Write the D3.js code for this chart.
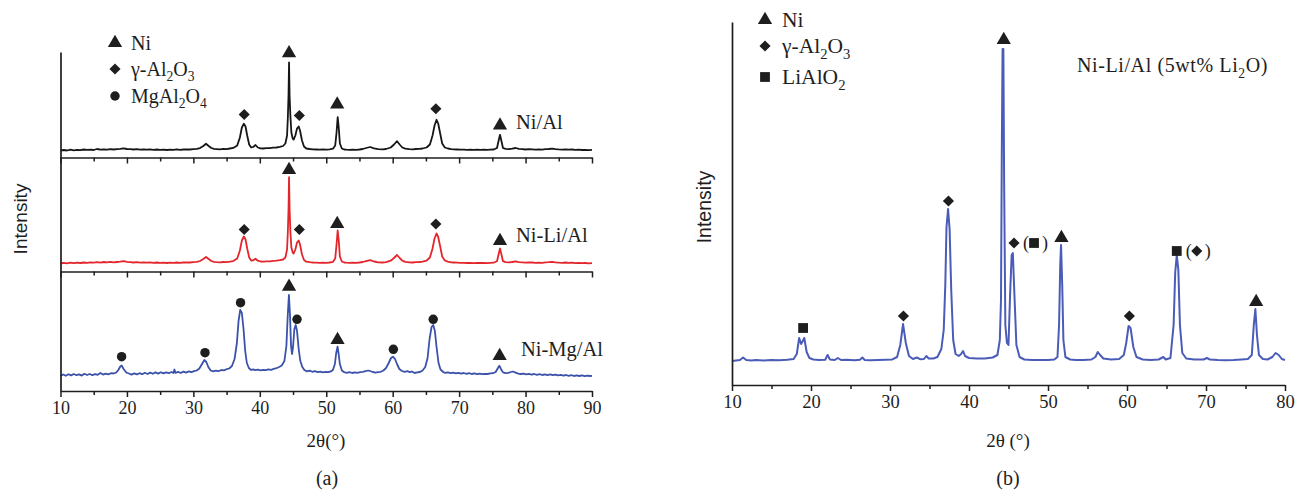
<!DOCTYPE html>
<html>
<head>
<meta charset="utf-8">
<script src="https://cdn.jsdelivr.net/npm/d3@7"></script>
<style>
  body { margin: 0; background: #fff; }
  svg text { font-family: "Liberation Serif", "Times New Roman", serif; fill: #1e1e1e; }
  svg text.sans { font-family: "Liberation Sans", Arial, sans-serif; }
</style>
</head>
<body>
<svg id="chart" width="1296" height="494"></svg>
<script>
// ---------- XRD patterns, [2θ (deg), intensity (a.u.)] ----------
// (a) stacked patterns
const niAl = [
  [10,7],[10.5,7.5],[11,7],[11.5,7.8],[12,7.2],[12.5,7.6],[13,7.4],[13.5,8],[14,7.6],[14.5,7.9],[15,7.5],[15.5,8.5],
  [16,7.8],[16.5,8.2],[17,7.9],[17.5,8.4],[18,8],[18.5,8.3],[19,8.6],[19.5,9.2],[20,8.5],[20.5,8.3],[21,8],[21.5,8.4],
  [22,7.9],[22.5,8.2],[23,7.8],[23.5,8.1],[24,7.6],[24.5,8],[25,7.7],[25.5,7.9],[26,7.5],[26.5,7.8],[27,7.6],[27.5,8.1],
  [28,7.7],[28.5,8],[29,8.2],[29.5,8],[30,8.3],[30.5,8.6],[31,9.4],[31.5,11.5],[31.9,13.7],[32.3,11.5],[32.7,9.5],
  [33.1,8.6],[33.5,8.4],[34,8.2],[34.5,8.6],[35,8.4],[35.5,9],[36,9.6],[36.6,12],[37,20],[37.3,30],[37.6,33.7],
  [37.85,31],[38.1,22],[38.4,13],[38.7,10],[39,10.5],[39.35,12.5],[39.7,10],[40.1,9.2],[40.5,9],[41,9.3],[41.5,9.4],
  [42,9.8],[42.5,10],[43,10.6],[43.5,11.5],[43.85,14],[44.1,22],[44.22,40],[44.32,62],[44.4,95],[44.48,62],[44.6,42],
  [44.75,25],[44.95,19],[45.1,18],[45.35,22],[45.6,29],[45.85,31],[46.05,27],[46.35,17],[46.65,11],[47,9],[47.5,8.5],
  [48,8.2],[48.5,8],[49,7.8],[49.5,8],[50,7.9],[50.5,8.2],[51,8.8],[51.35,12],[51.55,25],[51.72,40.3],[51.88,30],
  [52.05,14],[52.35,9],[52.7,8],[53,7.8],[53.5,7.6],[54,7.9],[54.5,7.7],[55,8],[55.5,8.5],[56,9.5],[56.6,10.5],
  [57.2,9.2],[57.8,8.4],[58.5,8.2],[59,8.5],[59.7,10],[60.2,13],[60.65,16.3],[61.05,13],[61.45,10],[61.9,8.8],
  [62.5,8.4],[63,8.2],[63.5,8.5],[64,8.7],[64.5,9],[65.1,10],[65.6,13],[66,22],[66.3,32],[66.6,37.7],[66.85,34],
  [67.15,24],[67.45,14],[67.85,10],[68.3,9],[68.8,8.4],[69.2,8.2],[69.7,8],[70.2,7.8],[70.7,7.9],[71.2,7.7],[71.7,7.8],
  [72.2,7.6],[72.7,7.8],[73.2,7.7],[73.7,7.9],[74.2,7.6],[74.7,7.8],[75.2,8],[75.7,9.5],[75.95,17],[76.15,22.7],
  [76.35,17],[76.6,9.5],[77,8.6],[77.5,8.3],[78,8.8],[78.5,9.5],[79,8.6],[79.5,8.3],[80,8],[80.5,8.3],[81,8.2],
  [81.5,7.9],[82,8.1],[82.5,7.8],[83,8.3],[83.5,8.5],[84,8.9],[84.5,8.4],[85,8.1],[85.5,7.9],[86,8.2],[86.5,7.8],
  [87,8],[87.5,7.6],[88,7.8],[88.5,7.5],[89,7.7],[89.5,7.4],[90,7.6]
];
const niLiAl = [
  [10,8],[10.5,8.6],[11,8.2],[11.5,8.8],[12,8.4],[12.5,8.9],[13,8.5],[13.5,9],[14,8.6],[14.5,9.2],[15,8.8],[15.5,9.4],
  [16,8.9],[16.5,9.5],[17,9.1],[17.5,9.6],[18,9.2],[18.5,9.5],[19,9.8],[19.5,10.4],[20,9.6],[20.5,9.3],[21,9],[21.5,9.4],
  [22,8.9],[22.5,9.2],[23,8.8],[23.5,9.1],[24,8.7],[24.5,9],[25,8.6],[25.5,8.9],[26,8.5],[26.5,8.8],[27,8.6],[27.5,9],
  [28,8.7],[28.5,9],[29,9.2],[29.5,9],[30,9.3],[30.5,9.6],[31,10.5],[31.5,12.5],[31.9,14.5],[32.3,12.5],[32.7,10.5],
  [33.1,9.6],[33.5,9.3],[34,9.1],[34.5,9.5],[35,9.3],[35.5,9.8],[36,10.4],[36.6,13],[37,21],[37.3,31],[37.6,35],
  [37.85,32],[38.1,23],[38.4,14],[38.7,11],[39,11.2],[39.35,12.8],[39.7,10.8],[40.1,10],[40.5,9.8],[41,10.1],[41.5,10.2],
  [42,10.6],[42.5,10.8],[43,11.3],[43.5,12],[43.85,14],[44.1,22],[44.22,40],[44.32,62],[44.4,94.3],[44.48,63],[44.6,40],
  [44.75,24],[44.95,19],[45.1,18],[45.35,22],[45.6,29],[45.85,31],[46.05,27],[46.35,17],[46.65,11.5],[47,9.8],[47.5,9.3],
  [48,9],[48.5,8.8],[49,8.6],[49.5,8.8],[50,8.7],[50.5,9],[51,9.6],[51.35,13],[51.55,27],[51.72,41],[51.88,31],
  [52.05,15],[52.35,10],[52.7,9],[53,8.8],[53.5,8.6],[54,8.9],[54.5,8.7],[55,9],[55.5,9.5],[56,10.3],[56.6,11.3],
  [57.2,10],[57.8,9.2],[58.5,9],[59,9.3],[59.7,10.8],[60.2,13.5],[60.65,16.5],[61.05,13.5],[61.45,10.8],[61.9,9.6],
  [62.5,9.2],[63,9],[63.5,9.3],[64,9.5],[64.5,9.8],[65.1,10.8],[65.6,14],[66,23],[66.3,33],[66.6,38],[66.85,34.5],
  [67.15,25],[67.45,15],[67.85,11],[68.3,9.8],[68.8,9.2],[69.2,9],[69.7,8.8],[70.2,8.6],[70.7,8.7],[71.2,8.5],[71.7,8.6],
  [72.2,8.4],[72.7,8.6],[73.2,8.5],[73.7,8.7],[74.2,8.4],[74.7,8.6],[75.2,8.8],[75.7,10.3],[75.95,17.5],[76.15,23],
  [76.35,17.5],[76.6,10.3],[77,9.4],[77.5,9.1],[78,9.5],[78.5,10.2],[79,9.4],[79.5,9.1],[80,8.8],[80.5,9.1],[81,9],
  [81.5,8.7],[82,8.9],[82.5,8.6],[83,9.1],[83.5,9.3],[84,9.7],[84.5,9.2],[85,8.9],[85.5,8.7],[86,9],[86.5,8.6],
  [87,8.8],[87.5,8.4],[88,8.6],[88.5,8.3],[89,8.5],[89.5,8.2],[90,8.4]
];
const niMgAl = [
  [10,15],[10.4,16.5],[10.8,15.2],[11.2,16.8],[11.6,15.6],[12,17],[12.4,15.8],[12.8,16.6],[13.2,15.4],[13.6,17.2],
  [14,16],[14.4,17],[14.8,15.8],[15.2,16.8],[15.6,16.2],[16,18],[16.4,16.4],[16.8,17.4],[17.2,16.6],[17.6,17.8],
  [18,17.5],[18.4,18.5],[18.7,21],[19,24.5],[19.2,25.5],[19.5,22],[19.9,18.5],[20.3,17.5],[20.7,16.4],[21.1,17.6],
  [21.5,16.6],[21.9,17.8],[22.3,16.8],[22.7,18.2],[23.1,17],[23.5,18.4],[23.9,17.2],[24.3,18.6],[24.7,17.4],[25.1,18.8],
  [25.5,17.6],[25.9,18.6],[26.3,17.8],[26.7,19],[27,18],[27.15,21.5],[27.3,18.2],[27.7,19.2],[28.1,18],[28.5,19.4],
  [28.9,18.4],[29.3,19.6],[29.7,18.8],[30.1,19.8],[30.5,20.5],[30.9,22.5],[31.3,27],[31.65,31],[31.95,29],[32.25,24],
  [32.6,20.5],[33,19.6],[33.4,20.4],[33.8,19.8],[34.2,21],[34.6,20.6],[35,21.8],[35.4,22.5],[35.8,25],[36.2,32],
  [36.55,48],[36.8,70],[37.05,81],[37.3,78],[37.55,62],[37.8,40],[38.05,28],[38.35,23],[38.7,21],[39,21.6],[39.3,20.8],
  [39.7,21.4],[40.1,20.6],[40.5,21.2],[40.9,20.8],[41.3,21.6],[41.7,21.2],[42.1,22.2],[42.5,22.8],[42.9,24],[43.3,25.5],
  [43.7,30],[44,45],[44.2,75],[44.38,96],[44.55,75],[44.7,45],[44.85,37],[45,44],[45.2,62],[45.4,66],[45.6,60],
  [45.85,42],[46.1,30],[46.4,24],[46.7,21],[47.1,19.6],[47.5,20.4],[47.9,19.2],[48.3,19.8],[48.7,18.8],[49.1,19.4],
  [49.5,18.6],[49.9,19.2],[50.3,18.8],[50.7,19.6],[51,21],[51.3,27],[51.5,38],[51.7,44.3],[51.85,38],[52.05,27],
  [52.35,20.5],[52.7,18.8],[53.1,18.2],[53.5,18.8],[53.9,18],[54.3,18.6],[54.7,18.2],[55.1,18.8],[55.5,19.2],[55.9,19.8],
  [56.3,20.5],[56.6,20],[57,19],[57.4,18.4],[57.8,18.8],[58.2,19.2],[58.6,20.5],[59,23],[59.4,28],[59.75,33],[60.05,34.3],
  [60.35,32],[60.65,27],[61,22],[61.4,20],[61.8,19.2],[62.2,19.8],[62.6,18.8],[62.9,19.5],[63.3,18],[63.7,18.6],[64.1,19],
  [64.5,20.5],[64.9,24],[65.25,33],[65.55,52],[65.85,64],[66.1,66],[66.35,60],[66.6,44],[66.9,28],[67.2,21.5],[67.6,19],
  [67.9,18.2],[68.3,18.6],[68.7,17.8],[69.1,18.4],[69.5,17.6],[69.9,18.2],[70.3,17.4],[70.7,18],[71.1,17.2],[71.5,17.8],
  [71.9,17],[72.3,17.6],[72.7,16.8],[73.1,17.4],[73.5,16.8],[73.9,17.2],[74.3,17],[74.7,17.6],[75.1,17.8],[75.5,19],
  [75.8,22.5],[76.05,25.3],[76.3,22],[76.6,18.6],[77,17.8],[77.4,18.2],[77.8,19],[78.1,19.5],[78.5,18.4],[78.9,17.4],
  [79.3,17],[79.7,17.4],[80.1,16.6],[80.5,17.2],[80.9,16.4],[81.3,17],[81.7,16.2],[82.1,16.8],[82.5,16],[82.9,16.6],
  [83.3,15.8],[83.7,16.6],[84.1,15.8],[84.5,16.4],[84.9,15.6],[85.3,16.2],[85.7,15.4],[86.1,16],[86.5,15.2],[86.9,15.8],
  [87.3,15],[87.7,15.6],[88.1,15],[88.5,15.6],[88.9,14.8],[89.3,15.4],[89.7,15],[90,15.2]
];
// (b) Ni-Li/Al, 5 wt% Li2O
const niLiAl5 = [
  [10,24],[10.5,24.5],[11,25],[11.4,27.5],[11.8,25],[12.5,24.5],[13,25],[14,24.6],[15,25],[16,24.8],[17,25.2],[17.8,26],
  [18.2,31],[18.5,47],[18.75,41],[18.95,44],[19.15,47],[19.45,33],[19.8,27],[20.3,25.5],[21,25],[21.8,25.2],[22.1,30],
  [22.4,25.5],[23,25],[23.4,27],[23.8,25],[24.5,25.2],[25.5,24.8],[26.2,25.2],[26.5,27.5],[26.8,25],[27.5,24.8],[28.5,25],
  [29.5,25.3],[30.3,25.6],[30.9,28],[31.3,40],[31.65,61],[32,42],[32.4,29],[32.9,26],[33.4,27.5],[33.8,25.8],[34.3,26],
  [34.6,29],[34.9,26.5],[35.5,26.5],[36,28],[36.5,36],[36.8,55],[37,100],[37.15,158],[37.35,176],[37.55,155],
  [37.75,95],[38,45],[38.3,31],[38.7,29],[39,31],[39.25,34],[39.5,29],[40,27],[41,26.5],[42,26.5],[43,27.5],[43.6,30],
  [43.9,45],[44.05,85],[44.15,230],[44.25,336],[44.35,336],[44.45,200],[44.6,60],[44.8,42],[45,40],[45.2,90],
  [45.4,130],[45.55,132],[45.75,90],[46,40],[46.4,28],[47,25.5],[48,25],[49,25],[50,25],[50.8,25.5],[51.2,28],
  [51.4,60],[51.55,120],[51.65,140],[51.8,100],[51.95,45],[52.2,28],[52.8,25.5],[53.5,25],[54.5,25],[55.5,25.5],
  [56,28],[56.3,33],[56.6,30],[57,26.5],[58,25.5],[59,26],[59.6,30],[59.9,42],[60.2,59],[60.45,57],[60.8,38],[61.2,28],
  [62,25.5],[63,25],[64,25.5],[64.6,28],[64.9,25.5],[65.5,27],[65.9,60],[66.1,112],[66.3,130],[66.5,115],[66.7,60],
  [67,32],[67.5,26.5],[68.5,25.5],[69.7,25.5],[70.1,27],[70.5,25.5],[71.5,25],[72.5,24.8],[73.5,25],[74.5,25.5],
  [75.3,26],[75.8,30],[76.05,60],[76.25,76],[76.45,50],[76.7,30],[77.2,26],[77.8,25.5],[78.4,28],[78.8,32],[79.2,30],
  [79.6,26],[80,25]
];

// phase markers: [symbol, 2θ, intensity]
const niAlMarks = [["dia",37.65,43],["tri",44.4,104.3],["dia",45.95,42],["tri",51.65,53],["dia",66.5,48.7],["tri",76.15,32]];
const niLiAlMarks = [["dia",37.65,42],["tri",44.4,101.5],["dia",45.95,42],["tri",51.65,47.5],["dia",66.5,47.5],["tri",76.15,30.5]];
const niMgAlMarks = [["circ",19.2,34.3],["circ",31.75,38.3],["circ",37.1,88.3],["tri",44.4,104.3],["circ",45.6,71.7],
  ["tri",51.7,51],["circ",60.1,41.7],["circ",66.1,71.7],["tri",76.1,35]];
// (b) markers; the last field names a symbol shown in parentheses beside it
const niLiAl5Marks = [["sq",19.0,57,null],["dia",31.7,69,null],["dia",37.4,184,null],["tri",44.4,345,null],
  ["dia",45.7,142,"sq"],["tri",51.7,147,null],["dia",60.3,69,null],["sq",66.3,134,"dia"],["tri",76.35,83,null]];

// tick values and labels
const ticksA = [10,20,30,40,50,60,70,80,90];
const minorA = [15,25,35,45,55,65,75,85];
const ticksB = [10,20,30,40,50,60,70,80];
const minorB = [15,25,35,45,55,65,75];
const seriesNamesA = ["Ni/Al","Ni-Li/Al","Ni-Mg/Al"];
const legendA = [["tri",[["Ni",0]]],["dia",[["γ-Al",0],["2",1],["O",0],["3",1]]],["circ",[["MgAl",0],["2",1],["O",0],["4",1]]]];
const legendB = [["tri",[["Ni",0]]],["dia",[["γ-Al",0],["2",1],["O",0],["3",1]]],["sq",[["LiAlO",0],["2",1]]]];
const titleB = [["Ni-Li/Al (5wt% Li",0],["2",1],["O)",0]];

// ---------- drawing ----------
const svg = d3.select("#chart");
svg.append("rect").attr("width",1296).attr("height",494).attr("fill","#fff");

const ink = "#1e1e1e";
const symbols = {
  tri:  d3.symbol(d3.symbolTriangle, 88)(),
  dia:  d3.symbol(d3.symbolSquare, 62)(),
  circ: d3.symbol(d3.symbolCircle, 70)(),
  sq:   d3.symbol(d3.symbolSquare, 96)()
};
function mark(g, kind, x, y) {
  g.append("path").attr("d", symbols[kind]).attr("fill", ink)
    .attr("transform", `translate(${x},${y})` + (kind === "dia" ? " rotate(45)" : ""));
}
// text with chemical subscripts: parts = [[text, isSub], ...]
function chem(sel, parts, size) {
  let sub = false;
  parts.forEach(([t, s]) => {
    const ts = sel.append("tspan").text(t);
    if (s && !sub) ts.attr("dy", size * 0.28).attr("font-size", size * 0.68);
    else if (s) ts.attr("font-size", size * 0.68);
    else if (!s && sub) ts.attr("dy", -size * 0.28);
    sub = !!s;
  });
  return sel;
}
function styleAxis(g, labelSize) {
  g.attr("font-family", null).attr("font-size", labelSize);
  g.selectAll(".domain").attr("stroke", ink).attr("stroke-width", 1.7);
  g.selectAll(".tick line").attr("stroke", ink).attr("stroke-width", 1.5);
  g.selectAll(".tick text").attr("fill", ink);
}

// ===== panel (a) =====
const xA = d3.scaleLinear().domain([10, 90]).range([60.5, 592]);
const rowsA = [
  {data: niAl,   marks: niAlMarks,   color: "#161616", bottom: 157.5, top: 52,    lab: [516, 129]},
  {data: niLiAl, marks: niLiAlMarks, color: "#e3262c", bottom: 271.5, top: 157.5, lab: [516, 242]},
  {data: niMgAl, marks: niMgAlMarks, color: "#3b52aa", bottom: 391,   top: 271.5, lab: [521, 356]}
];
rowsA.forEach((r, i) => {
  const y = d3.scaleLinear().domain([0, r.bottom - r.top]).range([r.bottom, r.top]);
  const line = d3.line().x(d => xA(d[0])).y(d => y(d[1]));
  svg.append("path").datum(r.data).attr("d", line).attr("fill", "none")
    .attr("stroke", r.color).attr("stroke-width", 1.8).attr("stroke-linejoin", "round");
  const mg = svg.append("g");
  r.marks.forEach(m => mark(mg, m[0], xA(m[1]), y(m[2])));
  svg.append("text").attr("x", r.lab[0]).attr("y", r.lab[1]).attr("font-size", 20.5).text(seriesNamesA[i]);

  const major = svg.append("g").attr("transform", `translate(0,${r.bottom})`)
    .call(d3.axisBottom(xA).tickValues(ticksA).tickSize(6).tickSizeOuter(0)
      .tickFormat(i === 2 ? d3.format("d") : () => "").tickPadding(4));
  styleAxis(major, 18);
  const minor = svg.append("g").attr("transform", `translate(0,${r.bottom})`)
    .call(d3.axisBottom(xA).tickValues(minorA).tickSize(4).tickFormat(() => ""));
  styleAxis(minor, 18);
  minor.select(".domain").remove();
});
// shared left spine
const spineA = d3.scaleLinear().domain([0, 1]).range([391, 52]);
styleAxis(svg.append("g").attr("transform", "translate(60.5,0)")
  .call(d3.axisLeft(spineA).tickValues([]).tickSizeOuter(0)), 18);

// legend (a)
legendA.forEach(([k, parts], i) => {
  const cy = [43, 69, 96][i];
  mark(svg, k, 115, cy);
  chem(svg.append("text").attr("x", 131).attr("y", cy + 6.5).attr("font-size", 20), parts, 20);
});
svg.append("text").attr("class", "sans").attr("font-size", 19).attr("text-anchor", "middle")
  .attr("transform", "translate(27,219) rotate(-90)").text("Intensity");
svg.append("text").attr("x", 326).attr("y", 447).attr("font-size", 19).attr("text-anchor", "middle").text("2θ(°)");
svg.append("text").attr("x", 327).attr("y", 485).attr("font-size", 20).attr("text-anchor", "middle").text("(a)");

// ===== panel (b) =====
const xB = d3.scaleLinear().domain([10, 80]).range([732, 1285]);
const yB = d3.scaleLinear().domain([0, 363]).range([385, 22]);
const lineB = d3.line().x(d => xB(d[0])).y(d => yB(d[1]));
svg.append("path").datum(niLiAl5).attr("d", lineB).attr("fill", "none")
  .attr("stroke", "#4a5cb8").attr("stroke-width", 2).attr("stroke-linejoin", "round");

const mgB = svg.append("g");
const paren = "#b87a40";
niLiAl5Marks.forEach(([k, t, v, note]) => {
  const px = xB(t), py = yB(v);
  mark(mgB, k, px, py);
  if (note) {
    mgB.append("text").attr("x", px + 9).attr("y", py + 6).attr("font-size", 18).attr("fill", paren).text("(");
    mark(mgB, note, px + 20, py);
    mgB.append("text").attr("x", px + 28).attr("y", py + 6).attr("font-size", 18).attr("fill", paren).text(")");
  }
});

const majorB = svg.append("g").attr("transform", "translate(0,385)")
  .call(d3.axisBottom(xB).tickValues(ticksB).tickSize(6).tickSizeOuter(0).tickFormat(d3.format("d")).tickPadding(4));
styleAxis(majorB, 18.5);
const minorBg = svg.append("g").attr("transform", "translate(0,385)")
  .call(d3.axisBottom(xB).tickValues(minorB).tickSize(4).tickFormat(() => ""));
styleAxis(minorBg, 18.5);
minorBg.select(".domain").remove();
styleAxis(svg.append("g").attr("transform", "translate(732,0)")
  .call(d3.axisLeft(yB).tickValues([]).tickSizeOuter(0)), 18.5);

legendB.forEach(([k, parts], i) => {
  const cy = [20, 46, 77][i];
  mark(svg, k, 765, cy);
  chem(svg.append("text").attr("x", 782).attr("y", cy + 7).attr("font-size", 21.5), parts, 21.5);
});
chem(svg.append("text").attr("x", 1077).attr("y", 72).attr("font-size", 20).attr("letter-spacing", 0.6), titleB, 20);
svg.append("text").attr("class", "sans").attr("font-size", 19.5).attr("text-anchor", "middle")
  .attr("transform", "translate(711,207) rotate(-90)").text("Intensity");
svg.append("text").attr("x", 1008).attr("y", 447).attr("font-size", 19).attr("text-anchor", "middle").text("2θ (°)");
svg.append("text").attr("x", 1008).attr("y", 485).attr("font-size", 20).attr("text-anchor", "middle").text("(b)");
</script>
</body>
</html>
